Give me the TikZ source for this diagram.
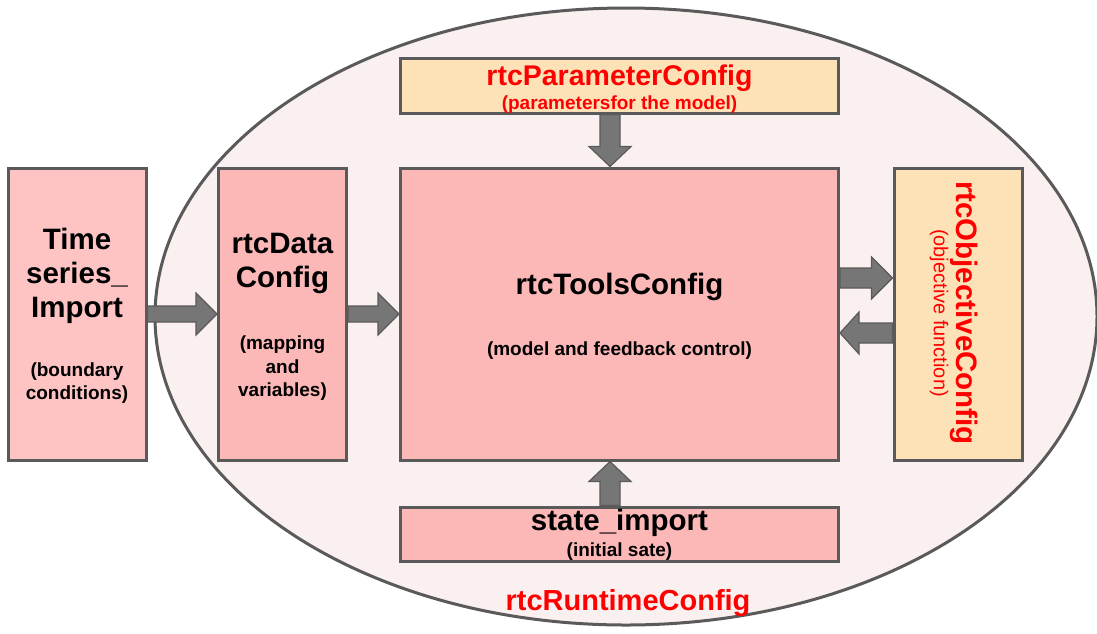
\documentclass[tikz,border=0pt]{standalone}
\usepackage{fontspec}
\setmainfont{Liberation Sans}
\usetikzlibrary{calc}

\definecolor{edge}{HTML}{5A5A5A}
\definecolor{arrowgray}{HTML}{767676}
\definecolor{outerfill}{HTML}{FBF0F0}
\definecolor{importfill}{HTML}{FEC4C4}
\definecolor{blockfill}{HTML}{FCB7B7}
\definecolor{configfill}{HTML}{FDE2B8}
\definecolor{titlered}{HTML}{FF0000}

\tikzset{
  blockbox/.style={draw=edge, line width=3pt, fill=blockfill, rectangle, inner sep=0pt},
  importbox/.style={blockbox, fill=importfill},
  configbox/.style={blockbox, fill=configfill},
  barrow/.style={draw=edge, line width=1.2pt, fill=arrowgray, line join=miter},
  bigtxt/.style={font=\bfseries\fontsize{29.5}{33.5}\selectfont, align=center, inner sep=0pt},
  smalltxt/.style={font=\bfseries\fontsize{19}{23.5}\selectfont, align=center, inner sep=0pt},
}

% block arrow pointing right, from node #1 to node #2 at the height of coordinate #3
\newcommand\arrowright[5]{%
  \draw[barrow] ($(#1.east|-#3)+(0,-#4)$) -- ($(#2.west|-#3)+(-21,-#4)$)
    -- ($(#2.west|-#3)+(-21,-#5)$) -- (#2.west|-#3) -- ($(#2.west|-#3)+(-21,#5)$)
    -- ($(#2.west|-#3)+(-21,#4)$) -- ($(#1.east|-#3)+(0,#4)$) -- cycle;}
% block arrow pointing left, from node #1 (right) to node #2 (left)
\newcommand\arrowleft[5]{%
  \draw[barrow] ($(#1.west|-#3)+(0,-#4)$) -- ($(#2.east|-#3)+(19,-#4)$)
    -- ($(#2.east|-#3)+(19,-#5)$) -- (#2.east|-#3) -- ($(#2.east|-#3)+(19,#5)$)
    -- ($(#2.east|-#3)+(19,#4)$) -- ($(#1.west|-#3)+(0,#4)$) -- cycle;}
% block arrow pointing down, from node #1 (above) to node #2 (below)
\newcommand\arrowdown[5]{%
  \draw[barrow] ($(#1.south-|#3)+(-#4,0)$) -- ($(#2.north-|#3)+(-#4,-20)$)
    -- ($(#2.north-|#3)+(-#5,-20)$) -- (#2.north-|#3) -- ($(#2.north-|#3)+(#5,-20)$)
    -- ($(#2.north-|#3)+(#4,-20)$) -- ($(#1.south-|#3)+(#4,0)$) -- cycle;}
% block arrow pointing up, from node #1 (below) to node #2 (above)
\newcommand\arrowup[5]{%
  \draw[barrow] ($(#1.north-|#3)+(-#4,0)$) -- ($(#2.south-|#3)+(-#4,20)$)
    -- ($(#2.south-|#3)+(-#5,20)$) -- (#2.south-|#3) -- ($(#2.south-|#3)+(#5,20)$)
    -- ($(#2.south-|#3)+(#4,20)$) -- ($(#1.north-|#3)+(#4,0)$) -- cycle;}

\begin{document}
\begin{tikzpicture}[x=1pt, y=-1pt]
\useasboundingbox (0,0) rectangle (1097,633);
\fill[white] (0,0) rectangle (1097,633);

% runtime configuration envelope
\draw[draw=edge, line width=3pt, fill=outerfill] (626,316.5) ellipse [x radius=471pt, y radius=308.5pt];
\node[font=\bfseries\fontsize{29}{33}\selectfont, text=titlered, inner sep=0pt] (runtime) at (628,603) {rtcRuntimeConfig};

% blocks
\node[importbox, minimum width=138pt, minimum height=292pt] (import) at (77,314) {};
\node[blockbox, minimum width=128pt, minimum height=292pt] (data) at (282.5,314) {};
\node[blockbox, minimum width=438pt, minimum height=292pt] (tools) at (619.5,314) {};
\node[configbox, minimum width=438pt, minimum height=55pt] (param) at (619.5,85.5) {};
\node[configbox, minimum width=128pt, minimum height=292pt] (objective) at (958,314) {};
\node[blockbox, minimum width=438pt, minimum height=54pt] (state) at (619.5,534) {};

% block texts
\node[font=\bfseries\fontsize{29.5}{34}\selectfont, align=center, inner sep=0pt] (importtitle) at (77,276) {Time\\series\_\\Import};
\node[font=\bfseries\fontsize{19}{22.5}\selectfont, align=center, inner sep=0pt] (importsub) at (77,383) {(boundary\\conditions)};

\node[bigtxt] (datatitle) at (282.5,263.5) {rtcData\\Config};
\node[smalltxt] (datasub) at (282.5,368.5) {(mapping\\and\\variables)};

\node[bigtxt] (toolstitle) at (619.5,287) {rtcToolsConfig};
\node[smalltxt] (toolssub) at (619.5,351) {(model and feedback control)};

\node[bigtxt, font=\bfseries\fontsize{28.5}{32}\selectfont, text=titlered] (paramtitle) at (619.5,78) {rtcParameterConfig};
\node[smalltxt, text=titlered] (paramsub) at (619.5,105) {(parametersfor the model)};

\node[bigtxt, text=titlered, rotate=-90] (objtitle) at (964,313) {rtcObjectiveConfig};
\node[font=\fontsize{20}{24}\selectfont, text=titlered, rotate=-90, inner sep=0pt] (objsub) at (939,313) {(objective function)};

\node[bigtxt] (statetitle) at (619.5,523) {state\_import};
\node[smalltxt] (statesub) at (619.5,552) {(initial sate)};

% connector levels
\coordinate (lvlmain) at (0,314);
\coordinate (lvlout) at (0,278);
\coordinate (lvlback) at (0,333);
\coordinate (colmid) at (610,0);

% connectors
\arrowright{import}{data}{lvlmain}{8}{21}
\arrowright{data}{tools}{lvlmain}{8}{21}
\arrowright{tools}{objective}{lvlout}{10}{21}
\arrowleft{objective}{tools}{lvlback}{10}{21}
\arrowdown{param}{tools}{colmid}{10}{21}
\arrowup{state}{tools}{colmid}{10}{21}
\end{tikzpicture}
\end{document}
